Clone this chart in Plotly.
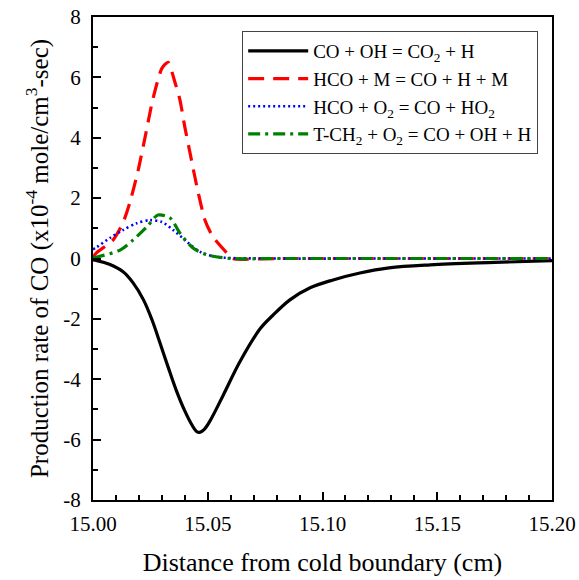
import plotly.graph_objects as go

# Distance from cold boundary (cm) and production rates (x1e-4 mole/cm3-sec)
x_co_oh = [15.000, 15.0017, 15.0074, 15.0131, 15.0174, 15.022, 15.0257, 15.0292, 15.0327, 15.0362,
           15.040, 15.0430, 15.0450, 15.0465, 15.0485, 15.051, 15.0568, 15.064, 15.0728, 15.0784,
           15.0858, 15.0946, 15.1046, 15.1163, 15.129, 15.147, 15.175, 15.200]
y_co_oh = [-0.05, -0.07, -0.2, -0.44, -0.8, -1.37, -2.03, -2.8, -3.59, -4.35,
           -5.05, -5.5, -5.72, -5.76, -5.66, -5.38, -4.52, -3.42, -2.33, -1.88,
           -1.37, -0.97, -0.71, -0.48, -0.31, -0.21, -0.13, -0.07]

x_hco_m = [15.000, 15.0017, 15.0087, 15.013, 15.016, 15.0197, 15.0227, 15.026, 15.0300, 15.0327,
           15.0357, 15.0379, 15.040, 15.0423, 15.0453, 15.0488, 15.0523, 15.0584, 15.061,
           15.080, 15.120, 15.160, 15.200]
y_hco_m = [0.05, 0.2, 0.61, 1.17, 1.84, 2.93, 4.02, 5.25, 6.3, 6.5,
           5.84, 5.25, 4.36, 3.49, 2.37, 1.27, 0.71, 0.18, 0.0,
           0.0, 0.0, 0.0, 0.0]

x_hco_o2 = [15.000, 15.0017, 15.0074, 15.013, 15.019, 15.0248, 15.030, 15.035, 15.041,
            15.0466, 15.054, 15.080, 15.120, 15.160, 15.200]
y_hco_o2 = [0.3, 0.38, 0.68, 0.94, 1.17, 1.27, 1.21, 0.94, 0.55,
            0.22, 0.05, 0.0, 0.0, 0.0, 0.0]

x_ch2_o2 = [15.000, 15.0017, 15.0118, 15.0174, 15.0235, 15.0283, 15.0336, 15.0379, 15.0436,
            15.0497, 15.060, 15.080, 15.120, 15.160, 15.200]
y_ch2_o2 = [0.03, 0.05, 0.28, 0.61, 1.05, 1.44, 1.34, 0.84, 0.35,
            0.12, 0.0, 0.0, 0.0, 0.0, 0.0]

names = ["CO + OH = CO<sub>2</sub> + H",
         "HCO + M = CO + H + M",
         "HCO + O<sub>2</sub> = CO + HO<sub>2</sub>",
         "T-CH<sub>2</sub> + O<sub>2</sub> = CO + OH + H"]

x_ticks = [15.00, 15.05, 15.10, 15.15, 15.20]
x_tick_text = ["15.00", "15.05", "15.10", "15.15", "15.20"]
y_ticks = [-8, -6, -4, -2, 0, 2, 4, 6, 8]
y_tick_text = ["-8", "-6", "-4", "-2", "0", "2", "4", "6", "8"]

font = "Liberation Serif, Times New Roman, serif"

fig = go.Figure()
fig.add_trace(go.Scatter(x=x_co_oh, y=y_co_oh, mode="lines", name=names[0],
                         line=dict(color="black", width=3.2, shape="spline", smoothing=1.0)))
fig.add_trace(go.Scatter(x=x_hco_m, y=y_hco_m, mode="lines", name=names[1],
                         line=dict(color="#ff0000", width=3.2, dash="16px,9px", shape="spline", smoothing=0.6)))
fig.add_trace(go.Scatter(x=x_hco_o2, y=y_hco_o2, mode="lines", name=names[2],
                         line=dict(color="#0000ff", width=2.6, dash="2px,3px", shape="spline", smoothing=0.8)))
fig.add_trace(go.Scatter(x=x_ch2_o2, y=y_ch2_o2, mode="lines", name=names[3],
                         line=dict(color="#008000", width=3.2, dash="12px,5px,3px,5px", shape="spline", smoothing=0.8)))

fig.update_layout(
    width=579, height=580,
    margin=dict(l=93, r=27, t=17, b=80),
    paper_bgcolor="white", plot_bgcolor="white",
    font=dict(family=font, size=21, color="black"),
    showlegend=True,
    legend=dict(x=0.325, y=0.971, xanchor="left", yanchor="top",
                bgcolor="white", bordercolor="#444", borderwidth=1,
                font=dict(family=font, size=19), tracegroupgap=0,
                itemwidth=60),
    xaxis=dict(range=[15.0, 15.2], tickvals=x_ticks, ticktext=x_tick_text,
               automargin=False,
               ticks="inside", ticklen=8, tickwidth=1.5, tickcolor="black",
               ticklabelstandoff=4,
               minor=dict(dtick=0.01, ticks="inside", ticklen=5, tickwidth=1.5, tickcolor="black"),
               showline=True, linecolor="black", linewidth=2, mirror=True,
               showgrid=False, zeroline=False,
               title=dict(text="Distance from cold boundary (cm)", font=dict(size=26), standoff=18)),
    yaxis=dict(range=[-8, 8], tickvals=y_ticks, ticktext=y_tick_text,
               automargin=False,
               ticks="inside", ticklen=8, tickwidth=1.5, tickcolor="black",
               ticklabelstandoff=6,
               minor=dict(dtick=1, ticks="inside", ticklen=5, tickwidth=1.5, tickcolor="black"),
               showline=True, linecolor="black", linewidth=2, mirror=True,
               showgrid=False, zeroline=False,
               title=dict(text="Production rate of CO (x10<sup>-4</sup> mole/cm<sup>3</sup>-sec)",
                          font=dict(size=25), standoff=8)),
)

fig.write_html("out.html")
